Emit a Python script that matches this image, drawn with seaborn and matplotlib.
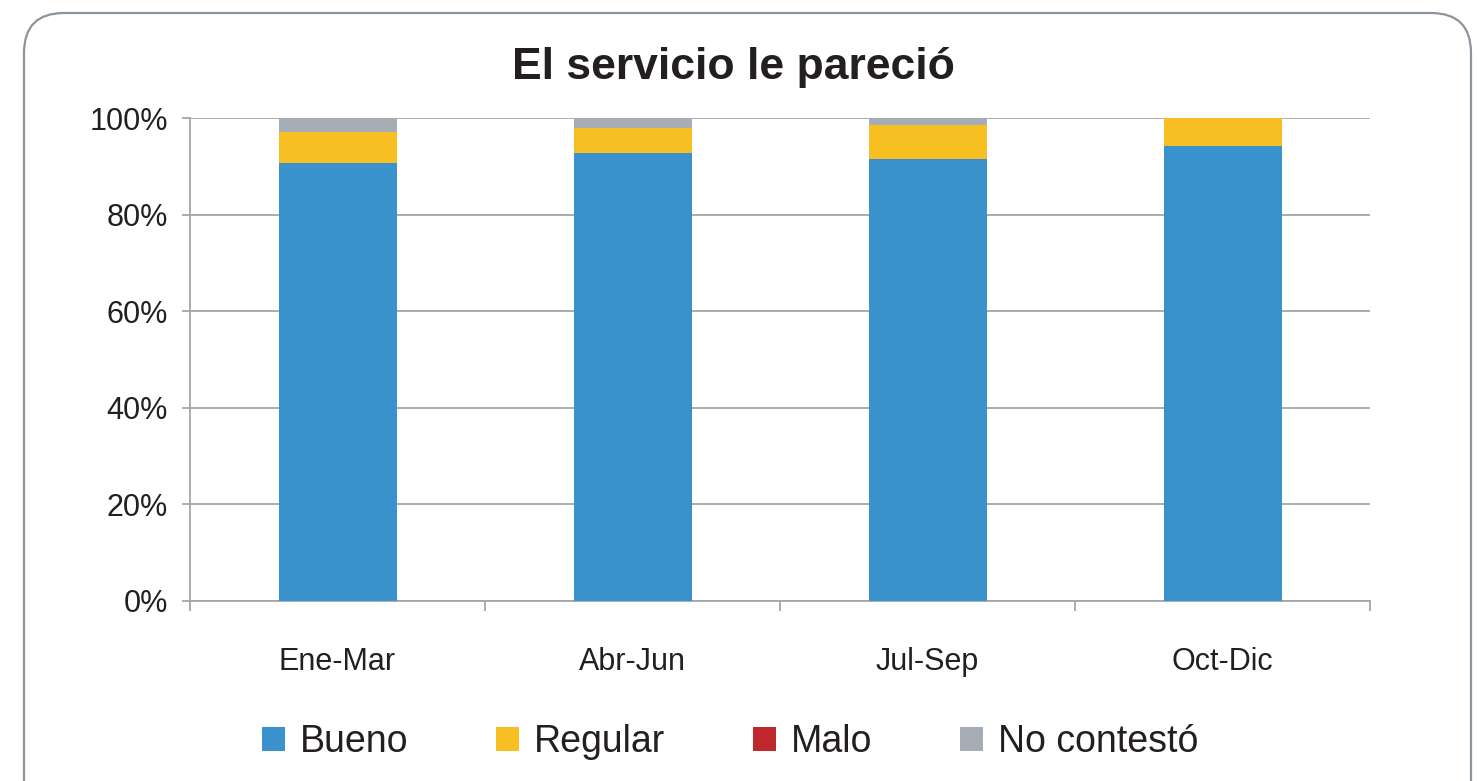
import numpy as np
import pandas as pd
import seaborn as sns
import matplotlib.pyplot as plt
from matplotlib.patches import FancyBboxPatch, Patch
from matplotlib.ticker import FuncFormatter, FixedLocator

periodos = ['Ene-Mar', 'Abr-Jun', 'Jul-Sep', 'Oct-Dic']
bueno = [90.7, 92.8, 91.6, 94.3]
regular = [6.5, 5.1, 7.0, 5.7]
malo = [0.0, 0.0, 0.0, 0.0]
no_contesto = [2.8, 2.1, 1.4, 0.0]

series = ['Bueno', 'Regular', 'Malo', 'No contestó']
colores = ['#3A92CD', '#F8BF22', '#C0272D', '#A6ADB4']

sns.set_theme(style='white')
plt.rcParams['font.family'] = ['Liberation Sans Narrow', 'Liberation Sans', 'DejaVu Sans']

df = pd.DataFrame({'periodo': periodos, 'Bueno': bueno, 'Regular': regular,
                   'Malo': malo, 'No contestó': no_contesto})
acum = df[series].cumsum(axis=1)

fig = plt.figure(figsize=(14.77, 7.81), dpi=100)
ax = fig.add_axes([190 / 1477, 1 - 601 / 781, 1180 / 1477, 483 / 781])

# stacked bars: draw cumulative totals from top series down
for s, c in reversed(list(zip(series, colores))):
    sns.barplot(x=df['periodo'], y=acum[s], color=c, width=0.4, ax=ax,
                saturation=1, linewidth=0, zorder=3)

ax.set_ylim(0, 100)
ax.set_xlim(-0.5, 3.5)
ax.set_yticks(np.arange(0, 101, 20))
ax.yaxis.set_major_formatter(FuncFormatter(lambda v, p: f'{v:.0f}%'))
ax.grid(axis='y', color='#A3A6AA', linewidth=1.3, zorder=0)
ax.set_axisbelow(True)
ax.set_xlabel('')
ax.set_ylabel('')

for side in ['top', 'right']:
    ax.spines[side].set_visible(False)
for side in ['left', 'bottom']:
    ax.spines[side].set_color('#A3A6AA')
    ax.spines[side].set_linewidth(1.3)

ax.tick_params(axis='y', left=True, length=6, width=1.3, color='#A3A6AA',
               pad=10, labelsize=22, labelcolor='#231F20')
ax.tick_params(axis='x', which='major', length=0, pad=33, labelsize=22,
               labelcolor='#231F20')
ax.xaxis.set_minor_locator(FixedLocator([-0.5, 0.5, 1.5, 2.5, 3.5]))
ax.tick_params(axis='x', which='minor', bottom=True, length=7, width=1.3,
               color='#A3A6AA')

fig.text(733 / 1477, 1 - 68 / 781, 'El servicio le pareció', ha='center',
         va='center', fontsize=32, fontweight='bold', color='#231F20')

handles = [Patch(facecolor=c, edgecolor='none') for c in colores]
fig.legend(handles, series, loc='center', ncol=4,
           bbox_to_anchor=(730 / 1477, 1 - 742 / 781), frameon=False,
           fontsize=27, handlelength=0.6, handleheight=0.6,
           handletextpad=0.4, columnspacing=2.35, labelcolor='#231F20')

borde = FancyBboxPatch((0.24, -0.4), 14.47, 8.08,
                       boxstyle='round,pad=0,rounding_size=0.4',
                       transform=fig.dpi_scale_trans, facecolor='none',
                       edgecolor='#8C949C', linewidth=1.6, zorder=0)
fig.patches.append(borde)

fig.savefig('out.png', dpi=100)
